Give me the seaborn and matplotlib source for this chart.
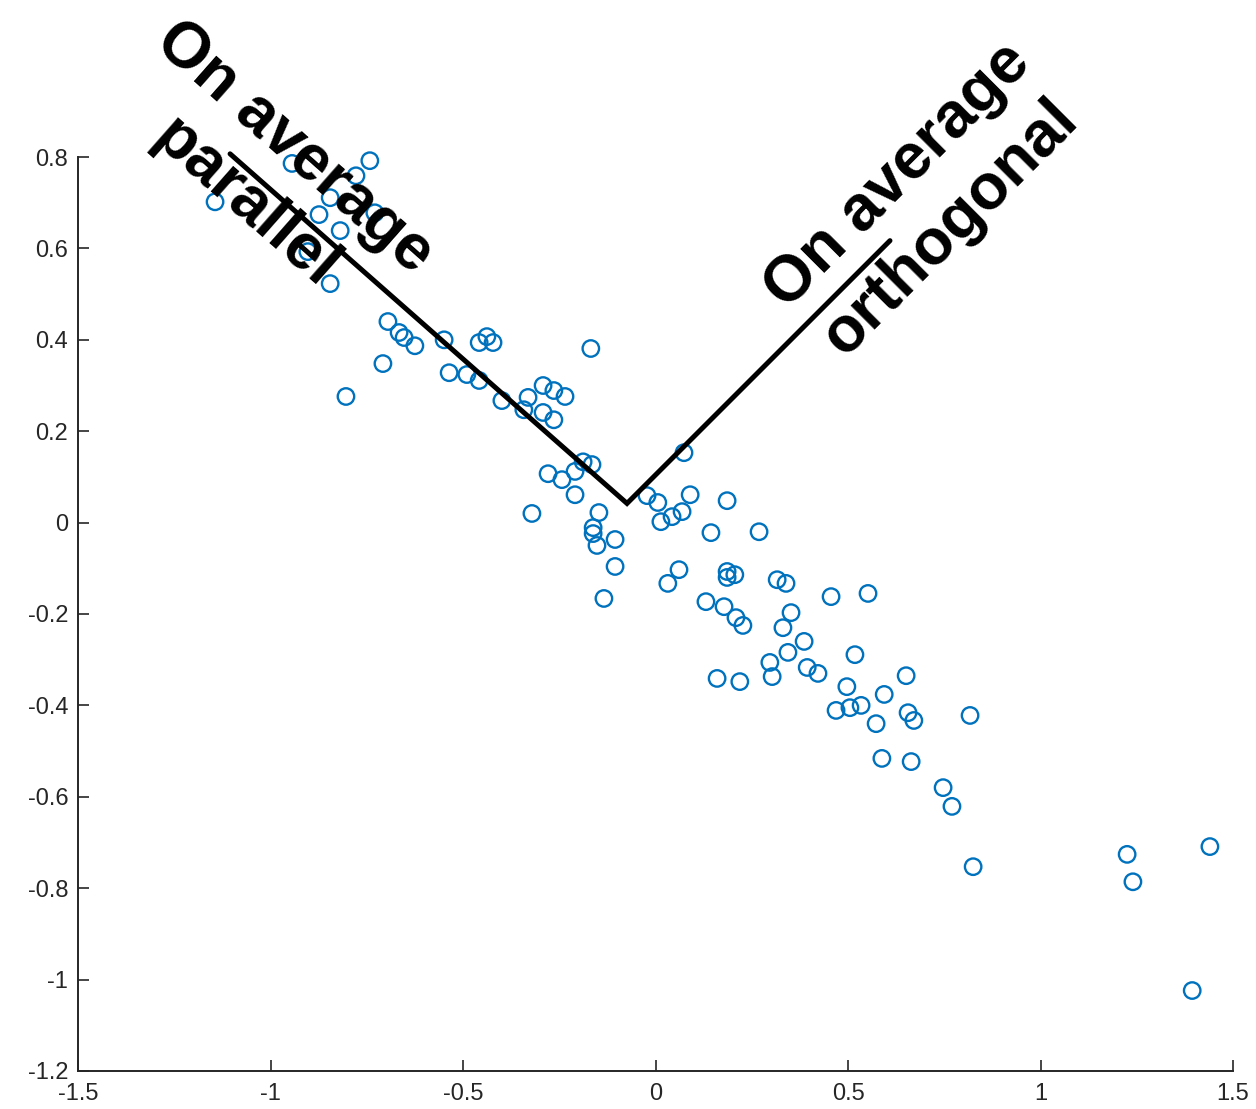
import numpy as np
import pandas as pd
import seaborn as sns
import matplotlib
matplotlib.use("Agg")
import matplotlib.pyplot as plt

# pontos
x_vals = [-1.144, -0.944, -0.742, -0.778, -0.729, -0.845, -0.874, -0.819, -0.903, -0.845,
          -0.695, -0.666, -0.653, -0.625, -0.549, -0.708, -0.804, -0.536, -0.490, -0.458,
          -0.458, -0.438, -0.422, -0.168, -0.399, -0.331, -0.342, -0.292, -0.264, -0.235,
          -0.292, -0.264, -0.188, -0.165, -0.209, -0.279, -0.243, -0.209, -0.321, -0.147,
          -0.162, -0.162, -0.152, -0.105, -0.105, -0.134, -0.022, 0.074, 0.006, 0.090,
          0.069, 0.043, 0.014, 0.186, 0.144, 0.269, 0.061, 0.032, 0.186, 0.186,
          0.206, 0.316, 0.339, 0.456, 0.552, 0.131, 0.178, 0.209, 0.227, 0.352,
          0.331, 0.386, 0.344, 0.518, 0.297, 0.303, 0.394, 0.422, 0.160, 0.219,
          0.497, 0.594, 0.651, 0.469, 0.505, 0.534, 0.573, 0.656, 0.671, 0.817,
          0.588, 0.664, 0.747, 0.770, 0.825, 1.225, 1.240, 1.440, 1.394]
y_vals = [0.702, 0.786, 0.792, 0.759, 0.678, 0.711, 0.674, 0.639, 0.593, 0.523,
          0.440, 0.416, 0.405, 0.387, 0.400, 0.348, 0.276, 0.328, 0.324, 0.311,
          0.394, 0.407, 0.394, 0.381, 0.267, 0.274, 0.247, 0.300, 0.289, 0.276,
          0.241, 0.225, 0.133, 0.127, 0.112, 0.107, 0.094, 0.061, 0.020, 0.022,
          -0.011, -0.024, -0.050, -0.037, -0.096, -0.166, 0.059, 0.153, 0.044, 0.061,
          0.024, 0.013, 0.002, 0.048, -0.022, -0.020, -0.103, -0.133, -0.107, -0.120,
          -0.114, -0.125, -0.133, -0.162, -0.155, -0.173, -0.184, -0.208, -0.225, -0.197,
          -0.230, -0.260, -0.284, -0.289, -0.306, -0.337, -0.317, -0.330, -0.341, -0.348,
          -0.359, -0.376, -0.335, -0.411, -0.405, -0.400, -0.440, -0.416, -0.433, -0.422,
          -0.516, -0.523, -0.580, -0.621, -0.753, -0.726, -0.786, -0.709, -1.024]

# linha em V
v_x = [-1.105, -0.074, 0.609]
v_y = [0.807, 0.042, 0.617]

x_ticks = [-1.5, -1, -0.5, 0, 0.5, 1, 1.5]
y_ticks = [0.8, 0.6, 0.4, 0.2, 0, -0.2, -0.4, -0.6, -0.8, -1, -1.2]

df = pd.DataFrame({'x': x_vals, 'y': y_vals})

sns.set_style("ticks")
plt.rcParams['font.family'] = ['Liberation Sans', 'DejaVu Sans']
plt.rcParams['axes.unicode_minus'] = False

fig = plt.figure(figsize=(12.56, 11.09), dpi=100)
ax = fig.add_axes([0.0621, 0.0343, 0.9196, 0.8241])

sns.scatterplot(data=df, x='x', y='y', ax=ax, marker='o', s=140,
                facecolor='none', edgecolor='#0072BD', linewidth=1.7, zorder=3,
                clip_on=False)

ax.plot(v_x, v_y, color='black', lw=3.6, clip_on=False, zorder=4,
        solid_joinstyle='miter')

ax.text(-1.001, 0.759, 'On average\nparallel', rotation=-41.4, rotation_mode='anchor',
        ha='center', va='center', multialignment='center', fontsize=46,
        fontweight='bold', linespacing=1.3, color='black', zorder=5, clip_on=False)
ax.text(0.697, 0.702, 'On average\northogonal', rotation=45, rotation_mode='anchor',
        ha='center', va='center', multialignment='center', fontsize=46,
        fontweight='bold', linespacing=1.3, color='black', zorder=5, clip_on=False)

ax.set_xlim(-1.5, 1.5)
ax.set_ylim(-1.2, 0.8)
ax.set_xticks(x_ticks)
ax.set_yticks(y_ticks)
ax.set_xticklabels([f'{t:g}' for t in x_ticks])
ax.set_yticklabels([f'{t:g}' for t in y_ticks])
ax.set_xlabel('')
ax.set_ylabel('')
ax.tick_params(direction='in', length=8, width=1.2, labelsize=17, colors='#262626')
ax.tick_params(axis='y', pad=7)
ax.tick_params(axis='x', pad=9)
sns.despine(ax=ax)
for s in ['left', 'bottom']:
    ax.spines[s].set_color('#262626')
    ax.spines[s].set_linewidth(1.4)

plt.savefig('out.png', dpi=100)
